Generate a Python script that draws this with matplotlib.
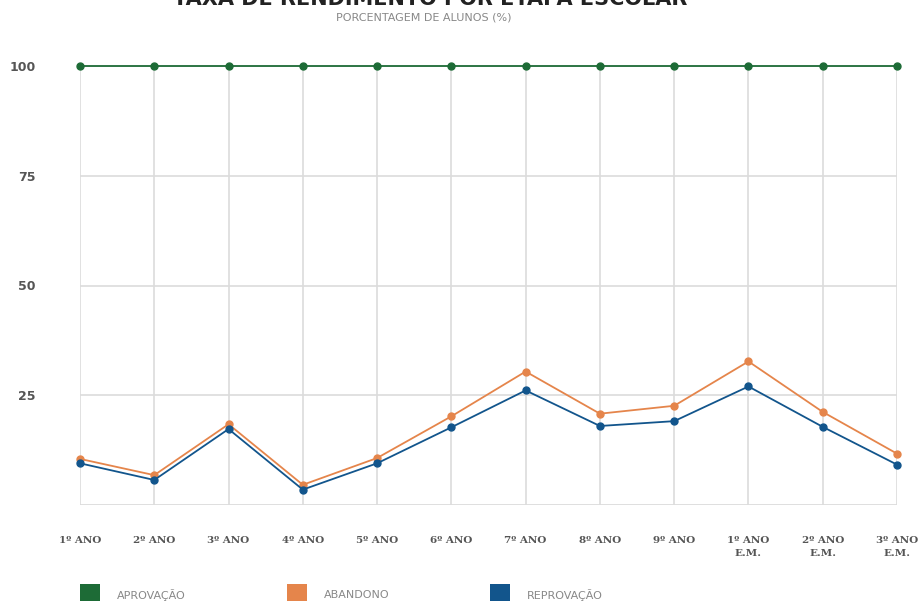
import matplotlib
matplotlib.use('Agg')
import matplotlib.pyplot as plt
from matplotlib.patches import Rectangle

etapas = ['1º ANO', '2º ANO', '3º ANO', '4º ANO', '5º ANO', '6º ANO', '7º ANO',
          '8º ANO', '9º ANO', '1º ANO\nE.M.', '2º ANO\nE.M.', '3º ANO\nE.M.']
aprovacao = [100, 100, 100, 100, 100, 100, 100, 100, 100, 100, 100, 100]
abandono = [10.5, 6.8, 18.4, 4.6, 10.7, 20.2, 30.4, 20.8, 22.6, 32.7, 21.2, 11.7]
reprovacao = [9.5, 5.7, 17.3, 3.5, 9.5, 17.7, 26.1, 18.0, 19.1, 27.0, 17.8, 9.2]
yticks = [25, 50, 75, 100]

verde = '#1d6b36'
laranja = '#e5854b'
azul = '#12558c'
cinza = '#dcdcdc'

fig = plt.figure(figsize=(9.2, 6.01), dpi=100)
ax = fig.add_axes([80/920, 96/601, 817/920, 439/601])

x = list(range(len(etapas)))
for serie, cor in [(aprovacao, verde), (abandono, laranja), (reprovacao, azul)]:
    ax.plot(x, serie, color=cor, lw=1.3, marker='o', ms=5, clip_on=False, zorder=3)

ax.set_xlim(0, len(etapas) - 1)
ax.set_ylim(0, 100)
ax.set_xticks(x)
ax.set_xticklabels(etapas, fontsize=7.5, fontweight='bold', color='#555555',
                   family='DejaVu Serif', linespacing=1.7, va='top')
ax.set_yticks(yticks)
ax.set_yticklabels([str(v) for v in yticks], fontsize=9, fontweight='bold',
                   color='#555555')
ax.tick_params(axis='both', length=0)
ax.tick_params(axis='y', pad=32)
ax.tick_params(axis='x', pad=22)
ax.grid(True, color=cinza, lw=1.2, zorder=0)
ax.axhline(0, color=cinza, lw=2, zorder=1)
for s in ax.spines.values():
    s.set_visible(False)

fig.text(430/920, 1 + 1/601, 'TAXA DE RENDIMENTO POR ETAPA ESCOLAR', ha='center',
         va='center', fontsize=15, fontweight='bold', color='#222222')
fig.text(424/920, 1 - 18/601, 'PORCENTAGEM DE ALUNOS (%)', ha='center',
         va='center', fontsize=8, color='#888888')

legenda = [('APROVAÇÃO', verde, 80), ('ABANDONO', laranja, 287), ('REPROVAÇÃO', azul, 490)]
for nome, cor, px in legenda:
    fig.add_artist(Rectangle((px/920, 0), 20/920, 17/601, transform=fig.transFigure,
                             color=cor, lw=0))
    fig.text((px + 37)/920, 6/601, nome, ha='left', va='center', fontsize=8,
             color='#888888')

fig.savefig('out.png', dpi=100)
